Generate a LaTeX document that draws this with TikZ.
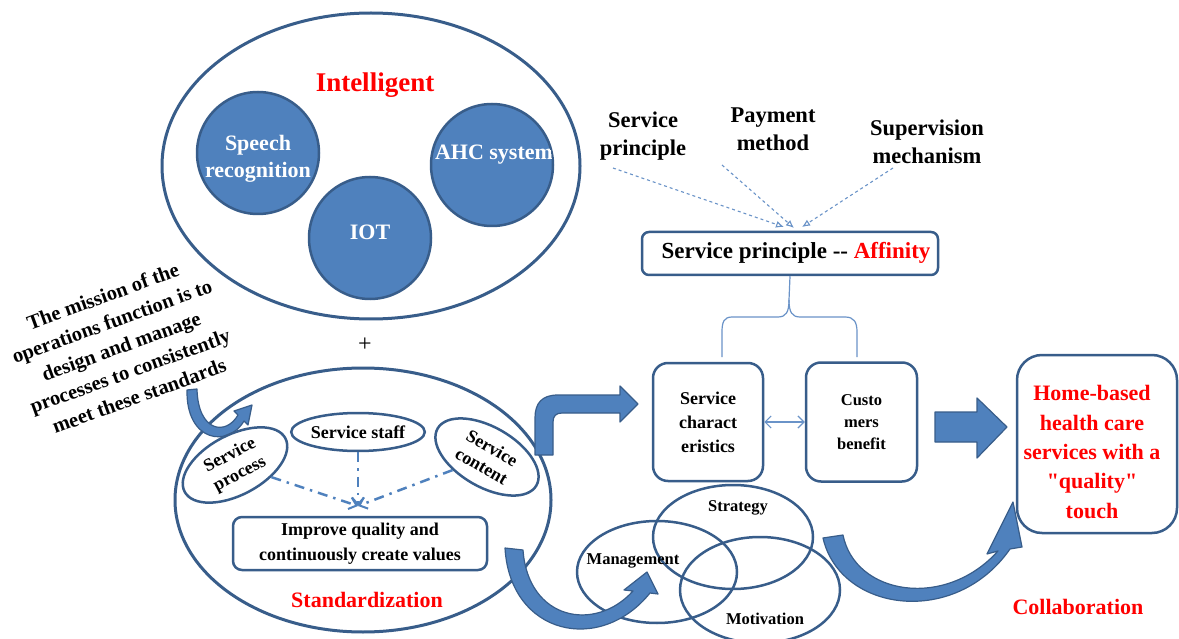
\documentclass[tikz,border=0pt]{standalone}
\usepackage{fontspec}
\setmainfont{Liberation Serif}[Ligatures=TeXOff]
\usetikzlibrary{shapes.geometric,arrows.meta,calc}
\definecolor{dkb}{HTML}{385D8A}
\definecolor{mdb}{HTML}{4F81BD}
\definecolor{lb}{HTML}{6A93C8}
\definecolor{rd}{HTML}{FF0000}
\newcommand\myfs[2]{\fontsize{#1}{#2}\selectfont\bfseries}
\tikzset{
  bigell/.style={ellipse,draw=dkb,line width=3pt,inner sep=0pt},
  techc/.style={circle,draw=dkb,line width=2.5pt,fill=mdb,minimum size=122pt,inner sep=0pt},
  techt/.style={text=white,font=\myfs{22}{27},align=center},
  redt/.style={text=rd,font=\myfs{22}{29.5},align=center},
  toplab/.style={text=black,font=\myfs{22.5}{28},align=center},
  smell/.style={ellipse,draw=dkb,line width=2.5pt,inner sep=0pt,align=center},
  rbox/.style={rectangle,draw=dkb,line width=2.5pt,rounded corners=#1,inner sep=0pt,align=center},
  venn/.style={ellipse,draw=dkb,line width=2.5pt,inner sep=0pt,minimum width=160pt},
  fatarrow/.style={fill=mdb,draw=dkb,line width=1.2pt,line join=round},
  dd/.style={draw=mdb,line width=2.5pt,dash pattern=on 10pt off 6pt on 2.5pt off 6pt,-{Straight Barb[length=7pt,width=12pt,line width=2pt]}},
  dsh/.style={draw=lb,line width=1.1pt,dashed,-{Latex[open,length=8pt,width=7pt]}},
  thinl/.style={draw=lb,line width=1.2pt},
}
\begin{document}
\begin{tikzpicture}[x=1pt,y={(0pt,-1pt)}]
\useasboundingbox (0,0) rectangle (1179,639);
\fill[white] (0,0) rectangle (1179,639);

% ---------- Intelligent ----------
\node[bigell,minimum width=418pt,minimum height=306pt] (intel) at (371,166) {};
\node[redt,font=\myfs{27}{30}] (inteltxt) at (375,85) {Intelligent};
\node[techc] (speech) at (258,153) {};
\node[techc] (iot) at (370,238) {};
\node[techc] (ahc) at (492,165) {};
\node[techt] (speecht) at (258,159) {Speech\\recognition};
\node[techt] (iott) at (370,232) {IOT};
\begin{scope}
  \clip (492,165) circle (60pt);
  \node[techt] (ahct) at (494,155) {AHC system};
\end{scope}

\node[font=\fontsize{24}{24}\selectfont] (plus) at (365,345) {+};

% ---------- mission text ----------
\node[rotate=20,align=center,font=\myfs{20.5}{26.5}] (mission) at (121,346)
  {The mission of the\\operations function is to\\design and manage\\processes to consistently\\meet these standards};

% ---------- Standardization ----------
\node[bigell,minimum width=376pt,minimum height=264pt] (stdz) at (363,500) {};
\draw[fatarrow] (187,390) .. controls (186,442) and (228,448) .. (244,421) -- (248,425) -- (252,405) -- (234,411) -- (238,415) .. controls (226,436) and (198,432) .. (197,389) -- cycle;
\node[smell,rotate=28,minimum width=114pt,minimum height=60pt,font=\myfs{18}{21}] (proc) at (235,465) {Service\\process};
\node[smell,minimum width=120pt,minimum height=38pt,font=\myfs{18}{21}] (staff) at (358,432) {Service staff};
\node[smell,rotate=-30,minimum width=114pt,minimum height=60pt,font=\myfs{18}{21}] (content) at (487,457) {Service\\content};
\coordinate (meet) at (358,506);
\draw[dd] (proc) -- (meet);
\draw[dd] (staff) -- (meet);
\draw[dd] (content) -- (meet);
\node[rbox=9pt,minimum width=254pt,minimum height=53pt,font=\myfs{18}{25}] (improve) at (360,543.5) {Improve quality and\\continuously create values};
\node[redt] (stdzt) at (367,600) {Standardization};

% ---------- bent arrow ----------
\draw[fatarrow] (535,455) -- (535,418) .. controls (535,403) and (542,395) .. (558,395) -- (620,395) -- (620,386) -- (638,404) -- (620,422) -- (620,413) -- (562,413) .. controls (556,413) and (553,416) .. (553,422) -- (553,455) -- cycle;

% ---------- service principle ----------
\node[toplab] (l1) at (643,136) {Service\\principle};
\node[toplab] (l2) at (773,129) {Payment\\method};
\node[toplab] (l3) at (927,142) {Supervision\\mechanism};
\node[rbox=7pt,minimum width=296pt,minimum height=43pt] (sp) at (790,253.5) {};
\node[font=\myfs{23}{25}] (spt) at (796,253) {Service principle -- \textcolor{rd}{Affinity}};
\coordinate (s1) at (613,168);
\coordinate (s2) at (722,165);
\coordinate (s3) at (893,168);
\coordinate (e1) at (784,227);
\coordinate (e2) at (794,228);
\coordinate (e3) at (802,227);
\draw[dsh] (s1) -- (e1);
\draw[dsh] (s2) -- (e2);
\draw[dsh] (s3) -- (e3);

% bracket
\coordinate (bt) at (sp.south);
\coordinate (bl) at (722,357);
\coordinate (br) at (857,357);
\draw[thinl] (bt) -- (789,300) .. controls (789,312) and (792,317) .. (800,317) -- (845,317) .. controls (854,317) and (857,322) .. (857,332) -- (br);
\draw[thinl] (789,300) .. controls (789,312) and (786,317) .. (778,317) -- (732,317) .. controls (724,317) and (722,322) .. (722,332) -- (bl);

% ---------- boxes ----------
\node[rbox=15pt,minimum width=110pt,minimum height=118pt,font=\myfs{18}{24}] (sc) at (708,422) {Service\\charact\\eristics};
\node[rbox=15pt,minimum width=111pt,minimum height=119pt,font=\myfs{16.5}{22}] (cb) at (861.5,422) {Custo\\mers\\benefit};
\draw[thinl,{Straight Barb[length=6pt,width=12pt]}-{Straight Barb[length=6pt,width=12pt]}] (sc.east) -- (cb.west);

% ---------- venn ----------
\node[venn,minimum height=104pt] (strat) at (733,537) {};
\node[venn,minimum height=102pt] (mgmt) at (657,572) {};
\node[venn,minimum height=106pt] (motiv) at (760,590) {};
\node[font=\myfs{16.5}{18}] (stratt) at (738,508) {Strategy};
\node[font=\myfs{16.5}{18}] (mgmtt) at (633,561) {Management};
\node[font=\myfs{16.5}{18}] (motivt) at (765,619) {Motivation};

% curved arrows
\draw[fatarrow] (505,548) .. controls (510,635) and (600,655) .. (650,593) -- (658,594) -- (647,572) -- (624,590) -- (633,591) .. controls (595,633) and (528,620) .. (523,550) -- cycle;
\draw[fatarrow] (823,538) .. controls (840,612) and (955,628) .. (1010,549) -- (1022,547) -- (1013,502) -- (987,554) -- (998,551) .. controls (945,610) and (855,595) .. (843,535) -- cycle;

% right block arrow
\draw[fatarrow] (935,412) -- (977,412) -- (977,398) -- (1007,427) -- (977,458) -- (977,442) -- (935,442) -- cycle;

% ---------- home box ----------
\node[rbox=25pt,minimum width=160pt,minimum height=178pt] (home) at (1097,444) {};
\node[redt] (homet) at (1092,452) {Home-based\\health care\\services with a\\"quality"\\touch};
\node[redt] (collab) at (1078,607) {Collaboration};
\end{tikzpicture}
\end{document}
